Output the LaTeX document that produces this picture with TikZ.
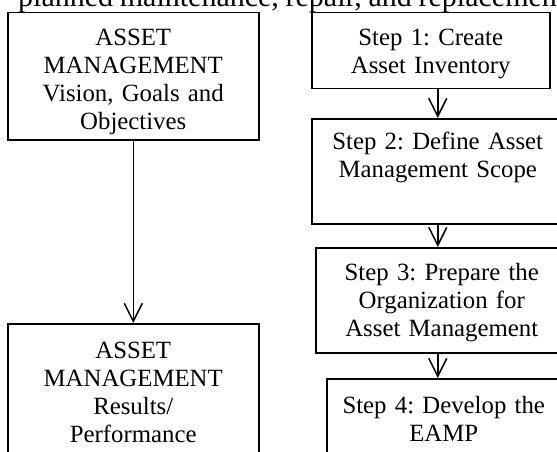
\documentclass[tikz,border=0pt]{standalone}
\usepackage{fontspec}
\setmainfont{Liberation Serif}
\frenchspacing
\usetikzlibrary{arrows.meta,positioning}

\begin{document}
\begin{tikzpicture}[x=1pt,y=-1pt,
  font=\fontsize{24.8}{28}\selectfont,
  box/.style={draw,line width=1.5pt,anchor=north west,align=center,inner sep=0pt},
  flow/.style={line width=1.5pt,-{Straight Barb[length=18pt,width=18pt,line width=1.5pt]}}]
  \useasboundingbox (0,0) rectangle (557,452);
  \clip (0,0) rectangle (557,452);
  % Caption line, cut off at the top (a justified line of text)
  \node[anchor=base west,inner sep=0pt,font=\fontsize{30}{33}\selectfont] (caption) at (18,7)
    {\makebox[547pt][s]{planned maintenance, repair, and replacement}};
  % Left column
  \node[box,text width=251pt,text height=33pt,text depth=94pt] (goals) at (7,12)
    {ASSET\\MANAGEMENT\\Vision, Goals and\\Objectives};
  \node[box,text width=251pt,text height=35pt,text depth=125pt] (results) at (7,323)
    {ASSET\\MANAGEMENT\\Results/\\Performance};
  % Right column: the four steps
  \node[box,text width=238pt,text height=33pt,text depth=43pt] (step1) at (311,12)
    {Step 1: Create\\Asset Inventory};
  \node[box,text width=252pt,text height=31pt,text depth=74pt] (step2) at (311,118)
    {Step 2: Define Asset\\Management Scope};
  \node[box,text width=252pt,text height=33pt,text depth=72pt] (step3) at (315,247)
    {Step 3: Prepare the\\Organization for\\Asset Management};
  \node[box,text width=234pt,text height=35pt,text depth=100pt] (step4) at (326,378)
    {Step 4: Develop the\\EAMP};
  % Arrows
  \draw[flow] (goals) -- (results);
  \draw[flow] (step1.south -| step2.north) -- (step2.north);
  \draw[flow] (step2.south) -- (step2.south |- step3.north);
  \draw[flow] (step3.south -| step2.south) -- (step2.south |- step4.north);
\end{tikzpicture}
\end{document}
